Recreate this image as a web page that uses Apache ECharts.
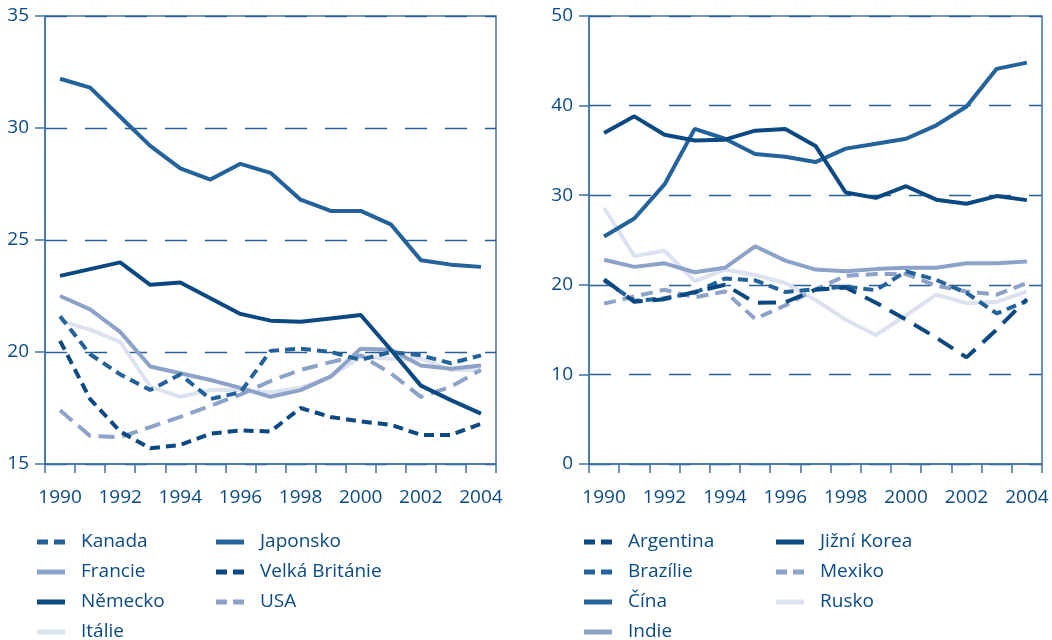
<!DOCTYPE html>
<html>
<head>
<meta charset="utf-8">
<script src="https://cdn.jsdelivr.net/npm/echarts@6/dist/echarts.min.js"></script>
<style>
html,body{margin:0;padding:0;background:#fff;}
#chart{width:1052px;height:640px;}
</style>
</head>
<body>
<div id="chart"></div>
<script>
// ---- DATA ----
const years = ['1990','1991','1992','1993','1994','1995','1996','1997','1998','1999','2000','2001','2002','2003','2004'];

// Left panel
const kanada        = [21.6, 19.9, 19.0, 18.3, 19.0, 17.9, 18.2, 20.05, 20.15, 20.0, 19.65, 20.0, 19.85, 19.5, 19.85];
const japonsko      = [32.2, 31.8, 30.5, 29.2, 28.2, 27.7, 28.4, 28.0, 26.8, 26.3, 26.3, 25.7, 24.1, 23.9, 23.8];
const francie       = [22.5, 21.9, 20.9, 19.35, 19.05, 18.75, 18.4, 18.0, 18.3, 18.9, 20.15, 20.1, 19.4, 19.25, 19.4];
const velkaBritanie = [20.5, 17.9, 16.45, 15.7, 15.85, 16.35, 16.5, 16.45, 17.5, 17.1, 16.9, 16.75, 16.3, 16.3, 16.8];
const nemecko       = [23.4, 23.7, 24.0, 23.0, 23.1, 22.4, 21.7, 21.4, 21.35, 21.5, 21.65, 20.1, 18.5, 17.85, 17.25];
const usa           = [17.4, 16.25, 16.2, 16.65, 17.1, 17.6, 18.1, 18.7, 19.2, 19.55, 19.85, 19.05, 18.0, 18.45, 19.2];
const italie        = [21.4, 21.0, 20.45, 18.45, 18.0, 18.3, 18.3, 18.2, 18.4, 18.9, 19.8, 19.7, 19.7, 19.2, 19.2];

// Right panel
const argentina  = [20.6, 18.1, 18.4, 19.2, 20.0, 18.0, 18.05, 19.45, 19.7, 18.0, 16.1, 14.1, 11.9, 15.0, 18.4];
const brazilie   = [20.5, 18.2, 18.5, 19.1, 20.7, 20.5, 19.2, 19.5, 19.8, 19.4, 21.5, 20.55, 19.1, 16.8, 18.2];
const cina       = [25.4, 27.4, 31.2, 37.4, 36.3, 34.6, 34.3, 33.7, 35.2, 35.75, 36.3, 37.8, 39.9, 44.1, 44.8];
const indie      = [22.8, 22.0, 22.4, 21.4, 21.9, 24.3, 22.7, 21.7, 21.5, 21.75, 21.9, 21.9, 22.4, 22.4, 22.6];
const jizniKorea = [36.95, 38.8, 36.75, 36.1, 36.2, 37.2, 37.4, 35.5, 30.3, 29.7, 31.0, 29.5, 29.05, 29.9, 29.45];
const mexiko     = [17.9, 18.7, 19.45, 18.6, 19.25, 16.2, 17.7, 19.5, 21.0, 21.2, 21.2, 19.9, 19.25, 18.9, 20.2];
const rusko      = [28.6, 23.2, 23.8, 20.4, 21.7, 21.1, 20.2, 18.3, 16.1, 14.4, 16.6, 18.9, 17.95, 18.1, 19.25];

// ---- STYLE ----
const C_DARK = '#0c4982', C_MED = '#23629b', C_LIGHT = '#8ca2c8', C_PALE = '#dce2f0';
const TEXT = '#0b4a86', AXIS = '#3f72a6', GRIDLINE = '#2a5f96';
const FONT = '"Open Sans", "Noto Sans", sans-serif';
const ICON_SOLID = 'path://M0,0H28V5H0Z';
const ICON_DASH = 'path://M0,0H11V5H0Z M17,0H28V5H17Z';

function line(name, data, color, dash, idx, z) {
  return {
    name, type: 'line', data, xAxisIndex: idx, yAxisIndex: idx,
    symbol: 'none', z: z || 2,
    lineStyle: { color, width: 4, type: dash || 'solid' },
    itemStyle: { color },
    emphasis: { disabled: true }
  };
}

function xAxis(idx) {
  return {
    type: 'category', gridIndex: idx, data: years, boundaryGap: true,
    axisLine: { lineStyle: { color: AXIS, width: 1.5 } },
    axisTick: { show: true, interval: 0, length: 9, lineStyle: { color: AXIS, width: 1.5 } },
    axisLabel: { interval: 1, color: TEXT, fontSize: 19, fontFamily: FONT, margin: 24 },
    splitLine: { show: false }
  };
}
function yAxis(idx, min, max, interval) {
  return {
    type: 'value', gridIndex: idx, min, max, interval,
    axisLine: { show: true, lineStyle: { color: AXIS, width: 1.5 } },
    axisTick: { show: true, length: 10, lineStyle: { color: AXIS, width: 1.5 } },
    axisLabel: { color: TEXT, fontSize: 19, fontFamily: FONT, margin: 16 },
    splitLine: { show: true, lineStyle: { color: GRIDLINE, width: 1.3, type: [22, 18] } }
  };
}
function legend(left, items) {
  return {
    orient: 'vertical', left, top: 532, height: 112, padding: 0,
    itemWidth: 28, itemHeight: 5, itemGap: 10,
    selectedMode: false,
    textStyle: { color: TEXT, fontSize: 19, fontFamily: FONT, lineHeight: 20, padding: [0, 0, 0, 11] },
    data: items.map(([name, dashed]) => ({ name, icon: dashed ? ICON_DASH : ICON_SOLID }))
  };
}

const option = {
  animation: false,
  backgroundColor: '#fff',
  grid: [
    { left: 45, right: 556, top: 16, bottom: 176, show: true, borderColor: AXIS, borderWidth: 1.5 },
    { left: 589, right: 10, top: 16, bottom: 176, show: true, borderColor: AXIS, borderWidth: 1.5 }
  ],
  xAxis: [xAxis(0), xAxis(1)],
  yAxis: [yAxis(0, 15, 35, 5), yAxis(1, 0, 50, 10)],
  legend: [
    legend(37, [['Kanada', true], ['Francie', false], ['Německo', false], ['Itálie', false]]),
    legend(216, [['Japonsko', false], ['Velká Británie', true], ['USA', true]]),
    legend(584, [['Argentina', true], ['Brazílie', true], ['Čína', false], ['Indie', false]]),
    legend(776, [['Jižní Korea', false], ['Mexiko', true], ['Rusko', false]])
  ],
  series: [
    line('Itálie', italie, C_PALE, null, 0, 2),
    line('USA', usa, C_LIGHT, [16, 8], 0, 3),
    line('Francie', francie, C_LIGHT, null, 0, 3),
    line('Velká Británie', velkaBritanie, C_DARK, [10, 6], 0, 4),
    line('Kanada', kanada, C_MED, [10, 6], 0, 4),
    line('Německo', nemecko, C_DARK, null, 0, 5),
    line('Japonsko', japonsko, C_MED, null, 0, 5),

    line('Rusko', rusko, C_PALE, null, 1, 2),
    line('Indie', indie, C_LIGHT, null, 1, 3),
    line('Mexiko', mexiko, C_LIGHT, [12, 7], 1, 3),
    line('Brazílie', brazilie, C_MED, [10, 6], 1, 4),
    line('Argentina', argentina, C_DARK, [18, 10], 1, 4),
    line('Čína', cina, C_MED, null, 1, 5),
    line('Jižní Korea', jizniKorea, C_DARK, null, 1, 5)
  ]
};

const chart = echarts.init(document.getElementById('chart'), null, { renderer: 'canvas' });
chart.setOption(option);
</script>
</body>
</html>
